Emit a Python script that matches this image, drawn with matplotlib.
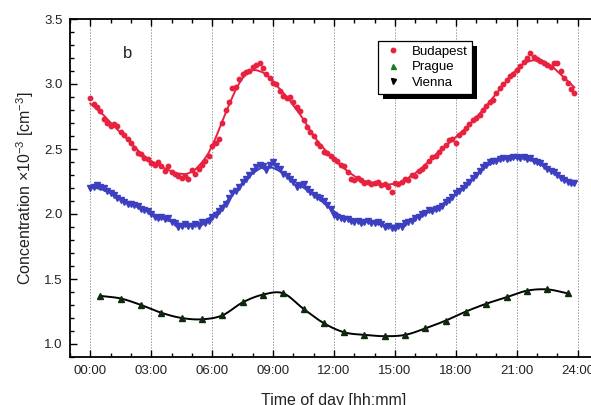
import numpy as np
import matplotlib
matplotlib.use("Agg")
import matplotlib.pyplot as plt
from matplotlib.lines import Line2D
from matplotlib.patches import Rectangle
from matplotlib.ticker import MultipleLocator, FuncFormatter

plt.rcParams["font.family"] = ["Liberation Sans", "DejaVu Sans"]
plt.rcParams["mathtext.fontset"] = "custom"
plt.rcParams["mathtext.rm"] = "Liberation Sans"
plt.rcParams["mathtext.it"] = "Liberation Sans:italic"
plt.rcParams["mathtext.bf"] = "Liberation Sans:bold"

# 10-minute samples, hours 0..23 (six values per hour)
budapest = [
    2.89, 2.85, 2.82, 2.79, 2.73, 2.70,
    2.68, 2.69, 2.68, 2.63, 2.61, 2.58,
    2.55, 2.51, 2.47, 2.46, 2.43, 2.42,
    2.39, 2.38, 2.40, 2.37, 2.33, 2.37,
    2.32, 2.31, 2.29, 2.28, 2.29, 2.27,
    2.34, 2.31, 2.35, 2.38, 2.41, 2.45,
    2.52, 2.55, 2.58, 2.70, 2.80, 2.86,
    2.97, 2.98, 3.04, 3.08, 3.09, 3.10,
    3.13, 3.15, 3.16, 3.12, 3.08, 3.05,
    3.01, 3.00, 2.95, 2.91, 2.89, 2.90,
    2.86, 2.82, 2.79, 2.72, 2.67, 2.63,
    2.60, 2.55, 2.52, 2.48, 2.47, 2.45,
    2.42, 2.41, 2.38, 2.37, 2.32, 2.27,
    2.26, 2.28, 2.26, 2.24, 2.25, 2.23,
    2.24, 2.25, 2.22, 2.23, 2.21, 2.17,
    2.24, 2.23, 2.25, 2.27, 2.26, 2.30,
    2.29, 2.33, 2.35, 2.37, 2.41, 2.44,
    2.45, 2.48, 2.51, 2.53, 2.57, 2.58,
    2.55, 2.61, 2.63, 2.66, 2.69, 2.72,
    2.74, 2.76, 2.80, 2.83, 2.86, 2.88,
    2.93, 2.97, 3.00, 3.03, 3.06, 3.08,
    3.11, 3.14, 3.17, 3.20, 3.24, 3.21,
    3.19, 3.18, 3.16, 3.15, 3.13, 3.16,
    3.16, 3.10, 3.05, 3.01, 2.96, 2.93,
]

vienna = [
    2.20, 2.21, 2.22, 2.21, 2.20, 2.18,
    2.16, 2.15, 2.12, 2.11, 2.09, 2.08,
    2.08, 2.07, 2.06, 2.04, 2.03, 2.02,
    2.00, 1.98, 1.97, 1.98, 1.96, 1.97,
    1.94, 1.93, 1.90, 1.91, 1.92, 1.91,
    1.91, 1.92, 1.91, 1.94, 1.93, 1.95,
    1.98, 1.99, 2.02, 2.05, 2.08, 2.12,
    2.16, 2.18, 2.21, 2.25, 2.27, 2.30,
    2.33, 2.36, 2.38, 2.37, 2.34, 2.38,
    2.40, 2.37, 2.35, 2.31, 2.29, 2.27,
    2.25, 2.21, 2.22, 2.23, 2.19, 2.17,
    2.15, 2.13, 2.12, 2.10, 2.07, 2.04,
    1.99, 1.98, 1.97, 1.96, 1.96, 1.95,
    1.94, 1.95, 1.93, 1.94, 1.95, 1.93,
    1.93, 1.94, 1.92, 1.90, 1.91, 1.89,
    1.89, 1.91, 1.90, 1.93, 1.94, 1.95,
    1.97, 1.98, 2.00, 2.01, 2.03, 2.02,
    2.04, 2.05, 2.06, 2.09, 2.11, 2.13,
    2.16, 2.18, 2.20, 2.22, 2.25, 2.28,
    2.30, 2.33, 2.36, 2.38, 2.40, 2.41,
    2.41, 2.42, 2.43, 2.42, 2.43, 2.44,
    2.44, 2.43, 2.44, 2.42, 2.43, 2.41,
    2.40, 2.39, 2.37, 2.35, 2.33, 2.32,
    2.30, 2.28, 2.26, 2.25, 2.24, 2.24,
]

# hourly means, plotted at half past each hour
prague = [
    1.37, 1.35, 1.30, 1.24, 1.20, 1.19, 1.22, 1.32, 1.38, 1.39, 1.27, 1.16,
    1.09, 1.07, 1.06, 1.07, 1.12, 1.18, 1.25, 1.31, 1.36, 1.41, 1.42, 1.39,
]

t_10min = np.arange(len(budapest)) / 6.0
t_hour = np.arange(len(prague)) + 0.5

RED = "#e8213f"
BLUE = "#3c40c0"
GREEN = "#1b7a1b"


def moving_average(values, window=9):
    values = np.asarray(values, dtype=float)
    half = window // 2
    padded = np.pad(values, half, mode="edge")
    return np.convolve(padded, np.ones(window) / window, mode="valid")


def catmull_rom(x, y, n=20):
    x = np.asarray(x, dtype=float)
    y = np.asarray(y, dtype=float)
    yp = np.concatenate([[2 * y[0] - y[1]], y, [2 * y[-1] - y[-2]]])
    t = np.linspace(0, 1, n, endpoint=False)
    xs, ys = [], []
    for j in range(len(x) - 1):
        p0, p1, p2, p3 = yp[j:j + 4]
        ys.append(0.5 * (2 * p1 + (-p0 + p2) * t
                         + (2 * p0 - 5 * p1 + 4 * p2 - p3) * t ** 2
                         + (-p0 + 3 * p1 - 3 * p2 + p3) * t ** 3))
        xs.append(x[j] + (x[j + 1] - x[j]) * t)
    xs.append([x[-1]])
    ys.append([y[-1]])
    return np.concatenate(xs), np.concatenate(ys)


fig = plt.figure(figsize=(5.91, 4.05), dpi=100)
ax = fig.add_axes([70 / 591, 48 / 405, 528 / 591, 338 / 405])

for h in range(0, 25, 3):
    ax.axvline(h, color="#999999", linestyle=(0, (1.5, 1.5)), linewidth=0.7, zorder=0)

# Budapest
ax.plot(t_10min, moving_average(budapest), color=RED, linewidth=1.4, zorder=2)
ax.plot(t_10min, budapest, linestyle="none", marker="o", markersize=3.2,
        color=RED, markeredgecolor=RED, zorder=3)

# Vienna (blue)
ax.plot(t_10min, moving_average(vienna), color=BLUE, linewidth=1.4, zorder=2)
ax.plot(t_10min, vienna, linestyle="none", marker="v", markersize=3.8,
        color=BLUE, markeredgecolor=BLUE, zorder=3)

# Prague (black line)
sx, sy = catmull_rom(t_hour, prague)
ax.plot(sx, sy, color="black", linewidth=1.4, zorder=2)
ax.plot(t_hour, prague, linestyle="none", marker="^", markersize=4,
        color="#0d2a0d", markeredgecolor="#0d2a0d", zorder=3)

ax.set_xlim(-1, 25)
ax.set_ylim(0.9, 3.5)
ax.xaxis.set_major_locator(MultipleLocator(3))
ax.xaxis.set_minor_locator(MultipleLocator(1))
ax.yaxis.set_major_locator(MultipleLocator(0.5))
ax.yaxis.set_minor_locator(MultipleLocator(0.1))
ax.xaxis.set_major_formatter(FuncFormatter(lambda v, p: f"{int(round(v)):02d}:00"))
ax.yaxis.set_major_formatter(FuncFormatter(lambda v, p: f"{v:.1f}"))

ax.tick_params(which="both", direction="in", top=True, right=True,
               colors="black", labelcolor="#222222", labelsize=9.5, width=1.0)
ax.tick_params(which="major", length=5, pad=5.5)
ax.tick_params(which="minor", length=3)
for sp in ax.spines.values():
    sp.set_linewidth(1.3)

ax.set_xlabel("Time of day [hh:mm]", fontsize=11.5, color="#222222", labelpad=12)
ax.set_ylabel(r"Concentration $\times$10$^{-3}$ [cm$^{-3}$]", fontsize=11.5,
              color="#222222", labelpad=6)

ax.text(1.6, 3.2, "b", fontsize=12, color="#222222")

handles = [
    Line2D([], [], linestyle="none", marker="o", markersize=3.2, color=RED),
    Line2D([], [], linestyle="none", marker="^", markersize=3.6, color=GREEN),
    Line2D([], [], linestyle="none", marker="v", markersize=3.6, color="black"),
]
leg = ax.legend(handles, ["Budapest", "Prague", "Vienna"], loc="upper left",
                bbox_to_anchor=(308 / 528, 1 - 22 / 338), fontsize=9.5,
                frameon=True, fancybox=False, edgecolor="black", framealpha=1,
                borderpad=0.35, handlelength=1.6, handletextpad=0.6,
                labelspacing=0.25, borderaxespad=0)
leg.get_frame().set_linewidth(0.9)
leg.set_zorder(10)

fig.canvas.draw()
bb = leg.get_window_extent()
shadow = Rectangle((bb.x0 + 5, bb.y0 - 5), bb.width, bb.height, transform=None,
                   facecolor="black", edgecolor="none", zorder=9)
ax.add_artist(shadow)

fig.savefig("out.png", dpi=100)
